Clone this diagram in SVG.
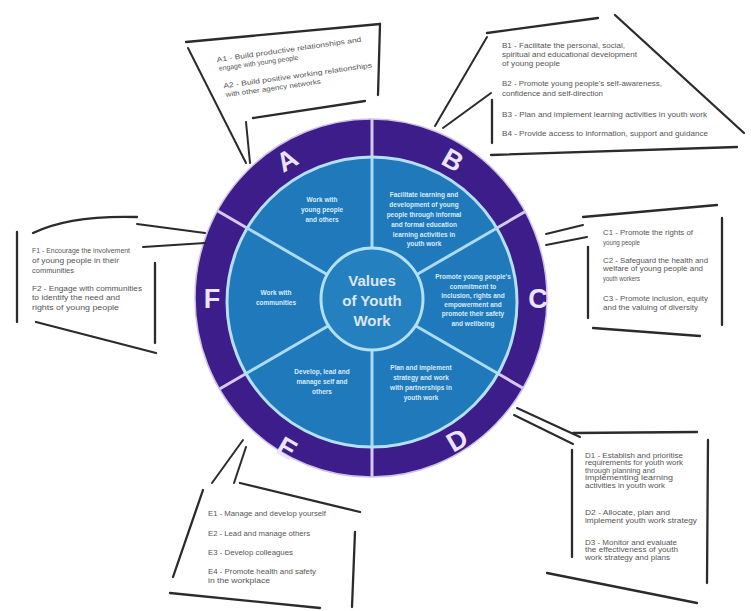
<svg xmlns="http://www.w3.org/2000/svg" width="751" height="611" viewBox="0 0 751 611">
<style>
.frame{fill:none;stroke:#2b2b2b;stroke-width:2.3;stroke-linecap:round}
.conn{fill:none;stroke:#2b2b2b;stroke-width:2;stroke-linecap:round}
.bt{font-family:"Liberation Sans",Arial,sans-serif;font-size:7px;fill:#555}
.wt{font-family:"Liberation Sans",Arial,sans-serif;font-size:6.5px;font-weight:bold;fill:#d6ecfa;text-anchor:middle}
.ct{font-family:"Liberation Sans",Arial,sans-serif;font-size:15px;font-weight:bold;fill:#dde5f7;text-anchor:middle}
.lt{font-family:"Liberation Sans",Arial,sans-serif;font-size:27px;font-weight:bold;fill:#ece4fb;text-anchor:middle}
.div{stroke:#aadcf3;stroke-width:3}
.rdiv{stroke:#d6c8f0;stroke-width:3}
</style>
<defs>
<clipPath id="ringclip"><ellipse cx="371" cy="298" rx="176" ry="179"/></clipPath>
</defs>
<rect width="751" height="611" fill="#ffffff"/>

<g id="wheel">
<ellipse cx="371" cy="298" rx="176" ry="179" fill="#3c1d8a" stroke="#cdbfea" stroke-width="1.5"/>
<g clip-path="url(#ringclip)">
<line class="rdiv" x1="372" y1="160" x2="372" y2="110"/>
<line class="rdiv" x1="497" y1="228" x2="540" y2="203"/>
<line class="rdiv" x1="497" y1="373" x2="540" y2="398"/>
<line class="rdiv" x1="372" y1="440" x2="372" y2="490"/>
<line class="rdiv" x1="247" y1="373" x2="204" y2="398"/>
<line class="rdiv" x1="247" y1="228" x2="204" y2="203"/>
</g>
<circle cx="372" cy="302" r="145" fill="#2079bb" stroke="#b3e0f5" stroke-width="3"/>
<line class="div" x1="372" y1="250" x2="372" y2="158"/>
<line class="div" x1="416" y1="275" x2="497" y2="228"/>
<line class="div" x1="416" y1="326" x2="497" y2="373"/>
<line class="div" x1="372" y1="350" x2="372" y2="446"/>
<line class="div" x1="328" y1="326" x2="247" y2="373"/>
<line class="div" x1="328" y1="275" x2="247" y2="228"/>
<circle cx="372" cy="299" r="51" fill="#2580c0" stroke="#b3e0f5" stroke-width="3"/>
<text class="ct" x="372" y="286">Values</text>
<text class="ct" x="372" y="306">of Youth</text>
<text class="ct" x="372" y="326">Work</text>

<g transform="translate(287,160) rotate(-30)"><text class="lt" x="0" y="9.5">A</text></g>
<g transform="translate(453,160) rotate(30)"><text class="lt" x="0" y="9.5">B</text></g>
<text class="lt" x="538" y="308">C</text>
<g transform="translate(457,440) rotate(-30)"><text class="lt" x="0" y="9.5">D</text></g>
<g transform="translate(287,448) rotate(30)"><text class="lt" x="0" y="9.5">E</text></g>
<text class="lt" x="212" y="308">F</text>

<text class="wt" x="322" y="202">Work with</text>
<text class="wt" x="322" y="212">young people</text>
<text class="wt" x="322" y="222">and others</text>

<text class="wt" x="424" y="197">Facilitate learning and</text>
<text class="wt" x="424" y="207">development of young</text>
<text class="wt" x="424" y="217">people through informal</text>
<text class="wt" x="424" y="227">and formal education</text>
<text class="wt" x="424" y="237">learning activities in</text>
<text class="wt" x="424" y="246">youth work</text>

<text class="wt" x="473" y="279">Promote young people's</text>
<text class="wt" x="473" y="289">commitment to</text>
<text class="wt" x="473" y="298">inclusion, rights and</text>
<text class="wt" x="473" y="307">empowerment and</text>
<text class="wt" x="473" y="316">promote their safety</text>
<text class="wt" x="473" y="326">and wellbeing</text>

<text class="wt" x="421" y="370">Plan and implement</text>
<text class="wt" x="421" y="380">strategy and work</text>
<text class="wt" x="421" y="390">with partnerships in</text>
<text class="wt" x="421" y="400">youth work</text>

<text class="wt" x="322" y="374">Develop, lead and</text>
<text class="wt" x="322" y="384">manage self and</text>
<text class="wt" x="322" y="394">others</text>

<text class="wt" x="276" y="295">Work with</text>
<text class="wt" x="276" y="305">communities</text>
</g>

<g id="connectors">
<line class="conn" x1="188" y1="48" x2="246" y2="163"/>
<line class="conn" x1="246" y1="122" x2="250" y2="163"/>
<line class="conn" x1="487" y1="37" x2="435" y2="126"/>
<line class="conn" x1="491" y1="93" x2="443" y2="128"/>
<line class="conn" x1="546" y1="234" x2="583" y2="225"/>
<line class="conn" x1="546" y1="245" x2="587" y2="237"/>
<line class="conn" x1="517" y1="408" x2="580" y2="437"/>
<line class="conn" x1="514" y1="415" x2="573" y2="444"/>
<line class="conn" x1="243" y1="440" x2="212" y2="483"/>
<line class="conn" x1="246" y1="447" x2="234" y2="483"/>
<line class="conn" x1="137" y1="224" x2="205" y2="233"/>
<line class="conn" x1="143" y1="247" x2="205" y2="243"/>
</g>

<g id="box-a">
<line class="frame" x1="186" y1="42" x2="380" y2="24"/>
<line class="frame" x1="380" y1="24" x2="378" y2="95"/>
<line class="frame" x1="253" y1="118" x2="365" y2="101"/>
<g transform="rotate(-8 217 62)">
<text class="bt" x="217" y="62" textLength="146" lengthAdjust="spacingAndGlyphs">A1 - Build productive relationships and</text>
<text class="bt" x="218" y="71" textLength="80" lengthAdjust="spacingAndGlyphs">engage with young people</text>
<text class="bt" x="220" y="89" textLength="150" lengthAdjust="spacingAndGlyphs">A2 - Build positive working relationships</text>
<text class="bt" x="221" y="98" textLength="96" lengthAdjust="spacingAndGlyphs">with other agency networks</text>
</g>
</g>

<g id="box-b">
<line class="frame" x1="487" y1="33" x2="598" y2="18"/>
<line class="frame" x1="615" y1="15" x2="744" y2="133"/>
<line class="frame" x1="491" y1="155" x2="737" y2="147"/>
<line class="frame" x1="492" y1="100" x2="492" y2="143"/>
<text class="bt" x="502" y="47.5" textLength="123" lengthAdjust="spacingAndGlyphs">B1 - Facilitate the personal, social,</text>
<text class="bt" x="502" y="56.5" textLength="135" lengthAdjust="spacingAndGlyphs">spiritual and educational development</text>
<text class="bt" x="502" y="65.5" textLength="58" lengthAdjust="spacingAndGlyphs">of young people</text>
<text class="bt" x="502" y="85.5" textLength="160" lengthAdjust="spacingAndGlyphs">B2 - Promote young people's self-awareness,</text>
<text class="bt" x="502" y="95.5" textLength="101" lengthAdjust="spacingAndGlyphs">confidence and self-direction</text>
<text class="bt" x="502" y="117" textLength="205" lengthAdjust="spacingAndGlyphs">B3 - Plan and implement learning activities in youth work</text>
<text class="bt" x="502" y="135.5" textLength="206" lengthAdjust="spacingAndGlyphs">B4 - Provide access to information, support and guidance</text>
</g>

<g id="box-c">
<line class="frame" x1="583" y1="217" x2="717" y2="205"/>
<line class="frame" x1="722" y1="218" x2="722" y2="325"/>
<line class="frame" x1="593" y1="328" x2="700" y2="336"/>
<line class="frame" x1="588" y1="247" x2="588" y2="318"/>
<text class="bt" x="603" y="234.5" textLength="90" lengthAdjust="spacingAndGlyphs">C1 - Promote the rights of</text>
<text class="bt" x="603" y="244.5" textLength="37" lengthAdjust="spacingAndGlyphs">young people</text>
<text class="bt" x="603" y="262.5" textLength="105" lengthAdjust="spacingAndGlyphs">C2 - Safeguard the health and</text>
<text class="bt" x="603" y="271" textLength="100" lengthAdjust="spacingAndGlyphs">welfare of young people and</text>
<text class="bt" x="603" y="280.5" textLength="37" lengthAdjust="spacingAndGlyphs">youth workers</text>
<text class="bt" x="603" y="300.5" textLength="105" lengthAdjust="spacingAndGlyphs">C3 - Promote inclusion, equity</text>
<text class="bt" x="603" y="310" textLength="95" lengthAdjust="spacingAndGlyphs">and the valuing of diversity</text>
</g>

<g id="box-d">
<line class="frame" x1="573" y1="433" x2="697" y2="432"/>
<line class="frame" x1="708" y1="440" x2="707" y2="583"/>
<line class="frame" x1="572" y1="450" x2="572" y2="557"/>
<line class="frame" x1="547" y1="573" x2="697" y2="603"/>
<text class="bt" x="585" y="457.5" textLength="98" lengthAdjust="spacingAndGlyphs">D1 - Establish and prioritise</text>
<text class="bt" x="585" y="465" textLength="98" lengthAdjust="spacingAndGlyphs">requirements for youth work</text>
<text class="bt" x="585" y="472.5" textLength="70" lengthAdjust="spacingAndGlyphs">through planning and</text>
<text class="bt" x="585" y="480" textLength="88" lengthAdjust="spacingAndGlyphs">implementing learning</text>
<text class="bt" x="585" y="487.5" textLength="80" lengthAdjust="spacingAndGlyphs">activities in youth work</text>
<text class="bt" x="585" y="515" textLength="85" lengthAdjust="spacingAndGlyphs">D2 - Allocate, plan and</text>
<text class="bt" x="585" y="522.5" textLength="112" lengthAdjust="spacingAndGlyphs">implement youth work strategy</text>
<text class="bt" x="585" y="544.5" textLength="92" lengthAdjust="spacingAndGlyphs">D3 - Monitor and evaluate</text>
<text class="bt" x="585" y="552" textLength="93" lengthAdjust="spacingAndGlyphs">the effectiveness of youth</text>
<text class="bt" x="585" y="559.5" textLength="85" lengthAdjust="spacingAndGlyphs">work strategy and plans</text>
</g>

<g id="box-e">
<line class="frame" x1="240" y1="483" x2="360" y2="512"/>
<line class="frame" x1="355" y1="532" x2="352" y2="607"/>
<line class="frame" x1="203" y1="490" x2="173" y2="577"/>
<line class="frame" x1="170" y1="593" x2="320" y2="608"/>
<text class="bt" x="208" y="515.5" textLength="118" lengthAdjust="spacingAndGlyphs">E1 - Manage and develop yourself</text>
<text class="bt" x="208" y="535.5" textLength="102" lengthAdjust="spacingAndGlyphs">E2 - Lead and manage others</text>
<text class="bt" x="208" y="554.5" textLength="85" lengthAdjust="spacingAndGlyphs">E3 - Develop colleagues</text>
<text class="bt" x="208" y="573.5" textLength="108" lengthAdjust="spacingAndGlyphs">E4 - Promote health and safety</text>
<text class="bt" x="208" y="582.5" textLength="62" lengthAdjust="spacingAndGlyphs">in the workplace</text>
</g>

<g id="box-f">
<path class="frame" d="M33 233 Q70 215 137 217"/>
<line class="frame" x1="17" y1="232" x2="17" y2="322"/>
<line class="frame" x1="155" y1="263" x2="155" y2="343"/>
<line class="frame" x1="36" y1="322" x2="156" y2="353"/>
<text class="bt" x="32" y="252.5" textLength="98" lengthAdjust="spacingAndGlyphs">F1 - Encourage the involvement</text>
<text class="bt" x="32" y="262.5" textLength="87" lengthAdjust="spacingAndGlyphs">of young people in their</text>
<text class="bt" x="32" y="272.5" textLength="42" lengthAdjust="spacingAndGlyphs">communities</text>
<text class="bt" x="32" y="290.5" textLength="110" lengthAdjust="spacingAndGlyphs">F2 - Engage with communities</text>
<text class="bt" x="32" y="299.5" textLength="88" lengthAdjust="spacingAndGlyphs">to identify the need and</text>
<text class="bt" x="32" y="309.5" textLength="87" lengthAdjust="spacingAndGlyphs">rights of young people</text>
</g>
</svg>
